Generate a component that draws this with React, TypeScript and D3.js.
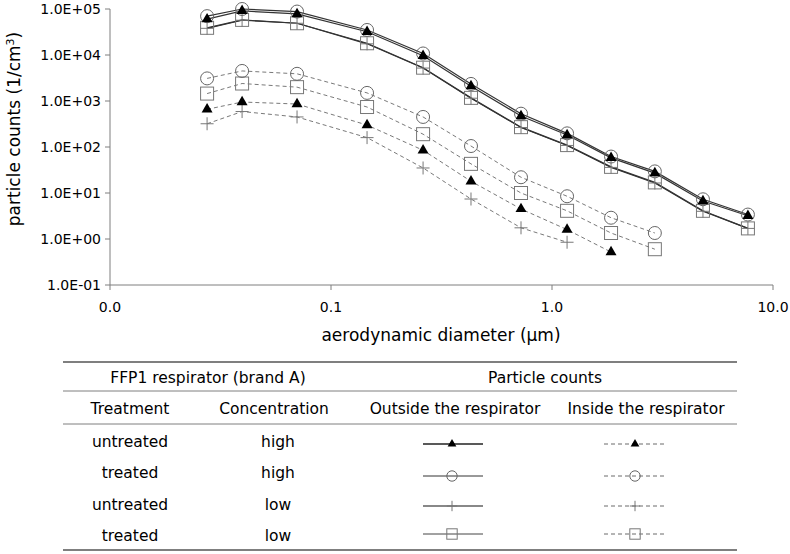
import React from "react";
import * as d3 from "d3";

// ---- data ----
const diameters = [0.0275, 0.0396, 0.0702, 0.1456, 0.261, 0.43, 0.724, 1.17, 1.85, 2.92, 4.82, 7.7];

const outUntreatedHigh = [6.0e4, 9.1e4, 7.8e4, 3.2e4, 9.6e3, 2.1e3, 470, 182, 58, 27, 6.7, 3.2];
const outTreatedHigh = [7.0e4, 1.0e5, 8.8e4, 3.5e4, 1.08e4, 2.35e3, 530, 198, 62, 29.5, 7.3, 3.4];
const outUntreatedLow = [3.8e4, 5.7e4, 4.9e4, 1.75e4, 5.2e3, 1.15e3, 265, 108, 36, 16.5, 4.0, 1.7];
const outTreatedLow = [3.9e4, 5.8e4, 4.9e4, 1.8e4, 5.3e3, 1.17e3, 270, 110, 37, 17, 4.1, 1.7];

const inUntreatedHigh = [660, 950, 860, 300, 85, 18, 4.5, 1.6, 0.52];
const inTreatedHigh = [3.1e3, 4.5e3, 3.9e3, 1.5e3, 450, 105, 22, 8.5, 2.9, 1.35];
const inUntreatedLow = [320, 590, 450, 160, 35, 7.4, 1.75, 0.85];
const inTreatedLow = [1.45e3, 2.4e3, 2.0e3, 740, 190, 43, 10, 4.1, 1.35, 0.6];

const xTicks = [0.01, 0.1, 1, 10];
const xTickLabels = ["0.0", "0.1", "1.0", "10.0"];
const yTicks = [0.1, 1, 10, 100, 1000, 10000, 100000];
const yTickLabels = ["1.0E-01", "1.0E+00", "1.0E+01", "1.0E+02", "1.0E+03", "1.0E+04", "1.0E+05"];

const treatments = ["untreated", "treated", "untreated", "treated"];
const concentrations = ["high", "high", "low", "low"];
const markers = ["triangle", "circle", "plus", "square"];

const FONT = "'DejaVu Sans', Arial, sans-serif";

type Marker = "triangle" | "circle" | "plus" | "square";

function MarkerShape({ type, x, y, s = 1 }: { type: Marker; x: number; y: number; s?: number }) {
  if (type === "triangle") {
    const p = d3.symbol(d3.symbolTriangle, 52 * s * s)() || "";
    return <path d={p} transform={`translate(${x},${y})`} fill="#000" />;
  }
  if (type === "circle") {
    return <circle cx={x} cy={y} r={6.5 * s} fill="none" stroke="#666" strokeWidth={1} />;
  }
  if (type === "square") {
    const h = 6.5 * s;
    return <rect x={x - h} y={y - h} width={2 * h} height={2 * h} fill="none" stroke="#777" strokeWidth={1} />;
  }
  const h = 6.5 * s;
  return (
    <g stroke="#777" strokeWidth={1}>
      <line x1={x - h} x2={x + h} y1={y} y2={y} />
      <line x1={x} x2={x} y1={y - h} y2={y + h} />
    </g>
  );
}

export default function App() {
  const x = d3.scaleLog().domain([0.01, 10]).range([110, 773]);
  const y = d3.scaleLog().domain([0.1, 1e5]).range([285, 9]);

  const line = d3
    .line<[number, number]>()
    .x((d) => x(d[0]))
    .y((d) => y(d[1]));

  const pts = (vals: number[]): [number, number][] => vals.map((v, i) => [diameters[i], v]);

  const inside = [
    { vals: inUntreatedHigh, m: "triangle" as Marker },
    { vals: inTreatedHigh, m: "circle" as Marker },
    { vals: inUntreatedLow, m: "plus" as Marker },
    { vals: inTreatedLow, m: "square" as Marker },
  ];
  const outside = [
    { vals: outUntreatedHigh, m: "triangle" as Marker },
    { vals: outTreatedHigh, m: "circle" as Marker },
    { vals: outUntreatedLow, m: "plus" as Marker },
    { vals: outTreatedLow, m: "square" as Marker },
  ];
  const markerOrder: Marker[] = ["square", "plus", "circle", "triangle"];

  // table layout
  const tL = 63, tR = 737;
  const colTreat = 130, colConc = 274, colOut = 453, colIn = 635;
  const rowY = [441, 472, 504, 535];
  const legY = [444, 476, 506, 534];
  const outLineStyles = [
    { stroke: "#222", w: 1.3 },
    { stroke: "#333", w: 1 },
    { stroke: "#888", w: 2 },
    { stroke: "#444", w: 1 },
  ];

  return (
    <svg
      width={790}
      height={554}
      style={{ position: "absolute", left: 0, top: 0, background: "#fff" }}
      fontFamily={FONT}
    >
      {/* axes */}
      <g stroke="#7f7f7f" strokeWidth={1} fill="none">
        <line x1={110} x2={110} y1={y(1e5)} y2={y(0.1)} />
        <line x1={110} x2={773} y1={y(0.1)} y2={y(0.1)} />
        {yTicks.map((t) => (
          <line key={"yt" + t} x1={105} x2={110} y1={y(t)} y2={y(t)} />
        ))}
        {xTicks.map((t) => (
          <line key={"xt" + t} x1={x(t)} x2={x(t)} y1={y(0.1)} y2={y(0.1) + 5} />
        ))}
      </g>
      <g fontSize={14} fill="#000">
        {yTicks.map((t, i) => (
          <text key={"yl" + t} x={101} y={y(t)} dy="0.36em" textAnchor="end">
            {yTickLabels[i]}
          </text>
        ))}
        {xTicks.map((t, i) => (
          <text key={"xl" + t} x={x(t)} y={312} textAnchor="middle">
            {xTickLabels[i]}
          </text>
        ))}
      </g>
      <text x={441} y={341} fontSize={17} textAnchor="middle">
        aerodynamic diameter (µm)
      </text>
      <text transform="translate(20,129) rotate(-90)" fontSize={17} textAnchor="middle">
        particle counts (1/cm<tspan fontSize={11} dy={-6}>3</tspan>
        <tspan dy={6}>)</tspan>
      </text>

      {/* inside (dashed) lines */}
      {inside.map((s, i) => (
        <path key={"il" + i} d={line(pts(s.vals)) || ""} fill="none" stroke="#6a6a6a" strokeWidth={0.9} strokeDasharray="4,3" />
      ))}
      {/* outside (solid) lines */}
      {outside.map((s, i) => (
        <path key={"ol" + i} d={line(pts(s.vals)) || ""} fill="none" stroke="#333" strokeWidth={1.2} />
      ))}
      {/* markers */}
      {markerOrder.map((m) =>
        [...inside, ...outside]
          .filter((s) => s.m === m)
          .map((s, si) =>
            pts(s.vals).map((p, i) => <MarkerShape key={m + si + "-" + i} type={m} x={x(p[0])} y={y(p[1])} />)
          )
      )}

      {/* table */}
      <g stroke="#7f7f7f" fill="none">
        <line x1={tL} x2={tR} y1={362} y2={362} strokeWidth={2} />
        <line x1={tL} x2={tR} y1={391} y2={391} strokeWidth={1} />
        <line x1={tL} x2={tR} y1={424} y2={424} strokeWidth={1} />
        <line x1={tL} x2={tR} y1={550} y2={550} strokeWidth={2} />
      </g>
      <g fontSize={15.5} fill="#000" textAnchor="middle">
        <text x={208} y={377} dy="0.36em">FFP1 respirator (brand A)</text>
        <text x={545} y={377} dy="0.36em">Particle counts</text>
        <text x={colTreat} y={408} dy="0.36em">Treatment</text>
        <text x={274} y={408} dy="0.36em">Concentration</text>
        <text x={455} y={408} dy="0.36em">Outside the respirator</text>
        <text x={646} y={408} dy="0.36em">Inside the respirator</text>
        {treatments.map((t, i) => (
          <text key={"tr" + i} x={colTreat} y={rowY[i]} dy="0.36em">
            {t}
          </text>
        ))}
        {concentrations.map((c, i) => (
          <text key={"cc" + i} x={colConc + 4} y={rowY[i]} dy="0.36em">
            {c}
          </text>
        ))}
      </g>
      {markers.map((m, i) => (
        <g key={"leg" + i}>
          <line
            x1={colOut - 30}
            x2={colOut + 30}
            y1={legY[i]}
            y2={legY[i]}
            stroke={outLineStyles[i].stroke}
            strokeWidth={outLineStyles[i].w}
          />
          <MarkerShape type={m as Marker} x={colOut - 1} y={legY[i]} s={0.8} />
          <line
            x1={colIn - 31}
            x2={colIn + 32}
            y1={legY[i]}
            y2={legY[i]}
            stroke="#6a6a6a"
            strokeWidth={1}
            strokeDasharray="4,3"
          />
          <MarkerShape type={m as Marker} x={colIn} y={legY[i]} s={0.8} />
        </g>
      ))}
    </svg>
  );
}
